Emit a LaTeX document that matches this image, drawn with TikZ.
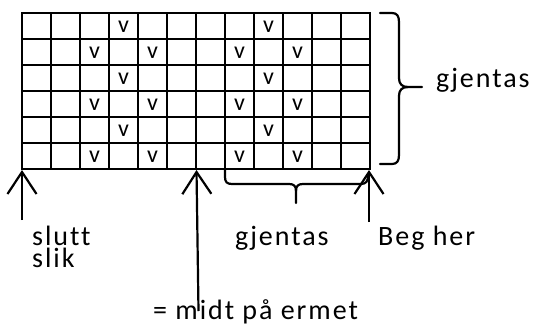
\documentclass[tikz,border=0pt]{standalone}
\usepackage{fontspec}
\setmainfont{Carlito}
\newfontfamily\lblfont[LetterSpace=7, Ligatures=NoCommon]{Carlito}
\usetikzlibrary{arrows.meta}
\tikzset{
  gridline/.style={line width=2.3pt, line cap=rect},
  vmark/.style={inner sep=0pt, font=\fontsize{24}{24}\selectfont},
  lbl/.style={inner sep=0pt, anchor=base west, font=\lblfont\fontsize{28}{22}\selectfont},
  brace/.style={line width=2.2pt, line cap=round, line join=round},
  uparrow/.style={line width=2.2pt, -{Straight Barb[length=22pt, width=29pt, line width=2.2pt]}},
}
\begin{document}
\begin{tikzpicture}[x=1pt, y=-1pt]
\useasboundingbox (0,0) rectangle (536,325);
% grid
\foreach \i in {0,...,12} \draw[gridline] (22+29*\i,13) -- (22+29*\i,169);
\foreach \j in {0,...,6} \draw[gridline] (22,13+26*\j) -- (370,13+26*\j);
\coordinate (gl) at (22,170);
\coordinate (gm) at (196.5,170);
\coordinate (gr) at (369,170);
% v marks
\foreach \r/\c in {0/3,0/8,1/2,1/4,1/7,1/9,2/3,2/8,3/2,3/4,3/7,3/9,4/3,4/8,5/2,5/4,5/7,5/9}
  \node[vmark] (v\r-\c) at (22+29*\c+14.5, 13+26*\r+14) {v};
% right brace
\draw[brace] (380,13) -- (392,13) .. controls (397,13) and (399,16) .. (399,22) -- (399,78)
  .. controls (399,84) and (402,87) .. (408,87) -- (422,87);
\draw[brace] (380,164) -- (392,164) .. controls (397,164) and (399,161) .. (399,155) -- (399,96)
  .. controls (399,90) and (402,87) .. (408,87);
% bottom brace
\draw[brace] (225,170) -- (225,177) .. controls (225,182) and (227,184) .. (232,184) -- (289,184)
  .. controls (294,184) and (296,186) .. (296,191) -- (296,203);
\draw[brace] (296,191) .. controls (296,186) and (298,184) .. (303,184) -- (361,184)
  .. controls (366,184) and (368,181) .. (368,176);
% labels
\node[lbl] (gjr) at (436,87) {gjentas};
\node[lbl, align=left] (slutt) at (32,267) {slutt\\slik};
\node[lbl] (gjb) at (235,245) {gjentas};
\node[lbl] (beg) at (378,245) {Beg her};
\node[lbl] (midt) at (153,319) {= midt på ermet};
% arrows
\coordinate (al) at (22,220);
\coordinate (am) at (198.5,311);
\coordinate (ar) at (369,222);
\draw[uparrow] (al) -- (gl);
\draw[uparrow] (am) -- (gm);
\draw[uparrow] (ar) -- (gr);
\end{tikzpicture}
\end{document}
